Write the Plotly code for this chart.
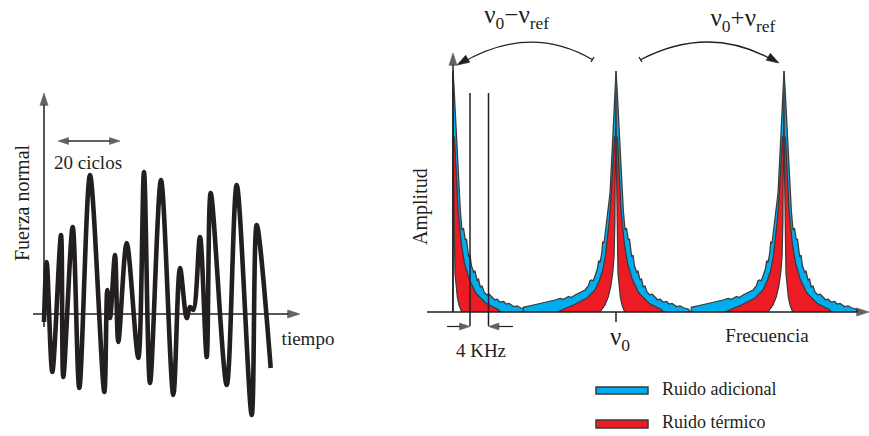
import plotly.graph_objects as go

# ---------------- Left panel: normal force vs time (arbitrary units) ----------------
t_wave = [0, 2.7, 8.3, 17, 19.3, 28.7, 35.3, 46, 60.3, 63.3, 66, 71, 74.3, 82.7, 94.3,
          100, 106, 117, 129.3, 136, 142.7, 146, 149.3, 156, 162.7, 166.7, 182.7,
          192.7, 207.7, 212.7, 226.7]
F_wave = [-8, 52, -58, 79, -63, 87, -74, 139, -78, 24, -4, 59, -28, 71, -44,
          142, -69, 134, -81, 46, -4, 7, 4, 77, -43, 121, -71,
          129, -101, 89, -54]

# ---------------- Right panel: spectrum (arbitrary units) ----------------
peak_centers = [0, 163, 331]
# one peak profile (offset from centre, amplitude)
blue_left_d = [-93, -92.7, -82.7, -69.3, -61, -56, -52.7, -47.7, -44.3, -41, -36, -31, -27.7,
               -26, -24.3, -22.7, -21, -18.7, -17.3, -16, -14.3, -13.3, -12, -9.3, -6, -4.3,
               -2.7, -1, 0]
blue_left_h = [0, 4.7, 7, 9.7, 12, 13.7, 12.7, 15.3, 14.7, 17, 19.3, 22, 26,
               31.3, 32, 31.3, 36, 42.7, 51.3, 49.3, 58.3, 70.3, 68.7, 92, 118.7, 152,
               185, 225, 241]
blue_right_d = [0, 1, 2, 3.3, 4.5, 5.7, 7.3, 9, 10.5, 12.3, 13.5, 15.7, 17, 18.5, 20.7, 22,
                24, 25.5, 27.3, 29, 31, 34, 36, 39, 42, 44, 47, 50.7, 53, 56, 60.7, 64, 68,
                72.3, 74]
blue_right_h = [241, 225, 205, 185, 160, 135, 102, 82, 84, 72, 73, 55, 57, 46, 40, 41,
                32, 33, 25, 26, 20, 17, 18, 15, 12, 13, 10, 10.5, 8, 8.5, 5.5, 6, 4,
                3, 0]
red_left_d = [-59, -42.7, -29.3, -21, -16.5, -13.2, -10.7, -8.6, -7, -5.3, -3, -1.5]
red_left_h = [0, 7, 13.7, 22, 32, 42, 55.3, 72, 88.7, 110, 152, 175]
red_right_d = [1.5, 3.5, 5, 6.7, 8.3, 11.5, 16.5, 23, 33, 46, 47]
red_right_h = [175, 122, 102, 85.3, 68.7, 48.7, 32, 18.7, 8.7, 2, 0]
notch_left_d = [-16, -11, -7.7, -5.3, -3.3, -2, -1.1, -0.4, 0]
notch_left_h = [0, 7, 15.3, 25, 38.7, 55, 90, 150, 241]
notch_right_d = [0, 0.4, 1.1, 2, 4.3, 6, 8.7]
notch_right_h = [241, 150, 90, 38.7, 15.3, 7, 0]

khz_lines = [17, 35.5]

BLUE = "#00aeef"
RED = "#ed1c24"
EDGE = "#3a3a3a"
INK = "#231f20"
FONT = "Liberation Serif"

fig = go.Figure()

# waveform
fig.add_trace(go.Scatter(x=t_wave, y=F_wave, mode="lines",
                         line=dict(color=INK, width=4.6, shape="spline", smoothing=0.9),
                         xaxis="x", yaxis="y", showlegend=False, hoverinfo="skip"))


def poly(xs, ys, color):
    fig.add_trace(go.Scatter(x=xs, y=ys, mode="lines", fill="toself", fillcolor=color,
                             line=dict(color=EDGE, width=1.25), xaxis="x2", yaxis="y2",
                             showlegend=False, hoverinfo="skip"))


# blue (additional noise)
for i, c in enumerate(peak_centers):
    if i == 0:
        xs = [c] + [c + d for d in blue_right_d]
        ys = [0] + blue_right_h
    else:
        xs = [c + d for d in blue_left_d] + [c + d for d in blue_right_d[1:]]
        ys = blue_left_h + blue_right_h[1:]
    poly(xs, ys, BLUE)

# red (thermal noise)
for i, c in enumerate(peak_centers):
    if i == 0:
        xs = [c, c] + [c + d for d in red_right_d]
        ys = [0, 175] + red_right_h
    else:
        xs = [c + d for d in red_left_d] + [c + d for d in red_right_d]
        ys = red_left_h + red_right_h
    poly(xs, ys, RED)

# central narrow signal spike (white notch with dark outline)
for i, c in enumerate(peak_centers):
    if i == 0:
        xs = [c] + [c + d for d in notch_right_d]
        ys = [0] + notch_right_h
    else:
        xs = [c + d for d in notch_left_d] + [c + d for d in notch_right_d[1:]]
        ys = notch_left_h + notch_right_h[1:]
    poly(xs, ys, "white")

shapes = []
annotations = []


def arrow(x0, y0, x1, y1, xa, ya, width=1.5, head=13):
    """line from (x0,y0) to tip (x1,y1) with an arrowhead marker at the tip"""
    fig.add_trace(go.Scatter(x=[x0, x1], y=[y0, y1], mode="lines+markers",
                             line=dict(color=INK, width=width),
                             marker=dict(symbol="arrow", size=[0, head], color=INK,
                                         angleref="previous", line=dict(width=0.6, color=INK)),
                             xaxis=xa, yaxis=ya, showlegend=False, hoverinfo="skip"))


def head(x, y, ang, xa, ya, size=13):
    fig.add_trace(go.Scatter(x=[x], y=[y], mode="markers",
                             marker=dict(symbol="arrow", size=size, color=INK, angle=ang,
                                         line=dict(width=0.6, color=INK)),
                             xaxis=xa, yaxis=ya, showlegend=False, hoverinfo="skip"))


def text(x, y, s, xa, ya, size=19, pos="middle center"):
    fig.add_trace(go.Scatter(x=[x], y=[y], mode="text", text=[s], textposition=pos,
                             textfont=dict(family=FONT, size=size, color=INK),
                             xaxis=xa, yaxis=ya, showlegend=False, hoverinfo="skip"))


def vtext(x, y, s, xr, yr, size=20):
    annotations.append(dict(x=x, y=y, xref=xr, yref=yr, text=s, showarrow=False,
                            textangle=-90, xanchor="center", yanchor="middle",
                            font=dict(family=FONT, size=size, color=INK)))


# left axes
arrow(-11, 0, 256, 0, "x", "y")
arrow(0, -13, 0, 221, "x", "y")
arrow(45, 173, 76, 173, "x", "y", width=1.4, head=11)
arrow(45, 173, 14, 173, "x", "y", width=1.4, head=11)
text(44, 150, "20 ciclos", "x", "y", 19)
vtext(-22, 111, "Fuerza normal", "x", "y", 20)
text(264, -26, "tiempo", "x", "y", 19)

# right axes
arrow(-26, 0, 416, 0, "x2", "y2")
arrow(0, 0, 0, 259, "x2", "y2")
for k in khz_lines:
    shapes.append(dict(type="line", xref="x2", yref="y2", x0=k, x1=k, y0=-14, y1=219,
                       line=dict(color=INK, width=1.5)))
arrow(-6, -14.5, khz_lines[0], -14.5, "x2", "y2", width=1.2, head=11)
arrow(60, -14.5, khz_lines[1], -14.5, "x2", "y2", width=1.2, head=11)
shapes.append(dict(type="line", xref="x2", yref="y2", x0=peak_centers[1], x1=peak_centers[1],
                   y0=0, y1=-10, line=dict(color=INK, width=1.5)))

# curved arrows
shapes.append(dict(type="path", xref="x2", yref="y2",
                   path="M 140 252 Q 76 289.5 7 248", line=dict(color=INK, width=1.3)))
shapes.append(dict(type="path", xref="x2", yref="y2",
                   path="M 187 252 Q 257.5 289 323 250", line=dict(color=INK, width=1.3)))
head(4, 247, 240, "x2", "y2")
head(326, 249, 120, "x2", "y2")
shapes.append(dict(type="line", xref="x2", yref="y2", x0=138, x1=141, y0=250, y1=255,
                   line=dict(color=INK, width=1.3)))
shapes.append(dict(type="line", xref="x2", yref="y2", x0=186, x1=189, y0=255, y1=250,
                   line=dict(color=INK, width=1.3)))

text(63.7, 295, "ν<sub>0</sub>−ν<sub>ref</sub>", "x2", "y2", 25)
text(290, 292, "ν<sub>0</sub>+ν<sub>ref</sub>", "x2", "y2", 25)
text(167, -27, "ν<sub>0</sub>", "x2", "y2", 25)
text(314, -25, "Frecuencia", "x2", "y2", 19)
text(28, -40, "4 KHz", "x2", "y2", 19)
vtext(-33, 105, "Amplitud", "x2", "y2", 20)

# legend
shapes.append(dict(type="rect", xref="x2", yref="y2", x0=143, x1=195, y0=-75, y1=-82,
                   fillcolor=BLUE, line=dict(color=EDGE, width=1.5)))
shapes.append(dict(type="rect", xref="x2", yref="y2", x0=143, x1=195, y0=-108, y1=-116,
                   fillcolor=RED, line=dict(color=EDGE, width=1.5)))
text(209, -78, "Ruido adicional", "x2", "y2", 18, pos="middle right")
text(209, -111, "Ruido térmico", "x2", "y2", 18, pos="middle right")

ax_common = dict(visible=False, showgrid=False, zeroline=False, fixedrange=True)
fig.update_layout(
    width=869, height=436, margin=dict(l=0, r=0, t=0, b=0),
    font=dict(family=FONT, size=19, color=INK),
    paper_bgcolor="white", plot_bgcolor="rgba(0,0,0,0)",
    xaxis=dict(domain=[0, 1], range=[-44, 825], anchor="y", **ax_common),
    yaxis=dict(domain=[0, 1], range=[-122, 314], anchor="x", **ax_common),
    xaxis2=dict(domain=[0, 1], range=[-453, 416], anchor="y2", **ax_common),
    yaxis2=dict(domain=[0, 1], range=[-124, 312], anchor="x2", **ax_common),
    shapes=shapes, annotations=annotations, showlegend=False,
)

fig.write_html("out.html")
